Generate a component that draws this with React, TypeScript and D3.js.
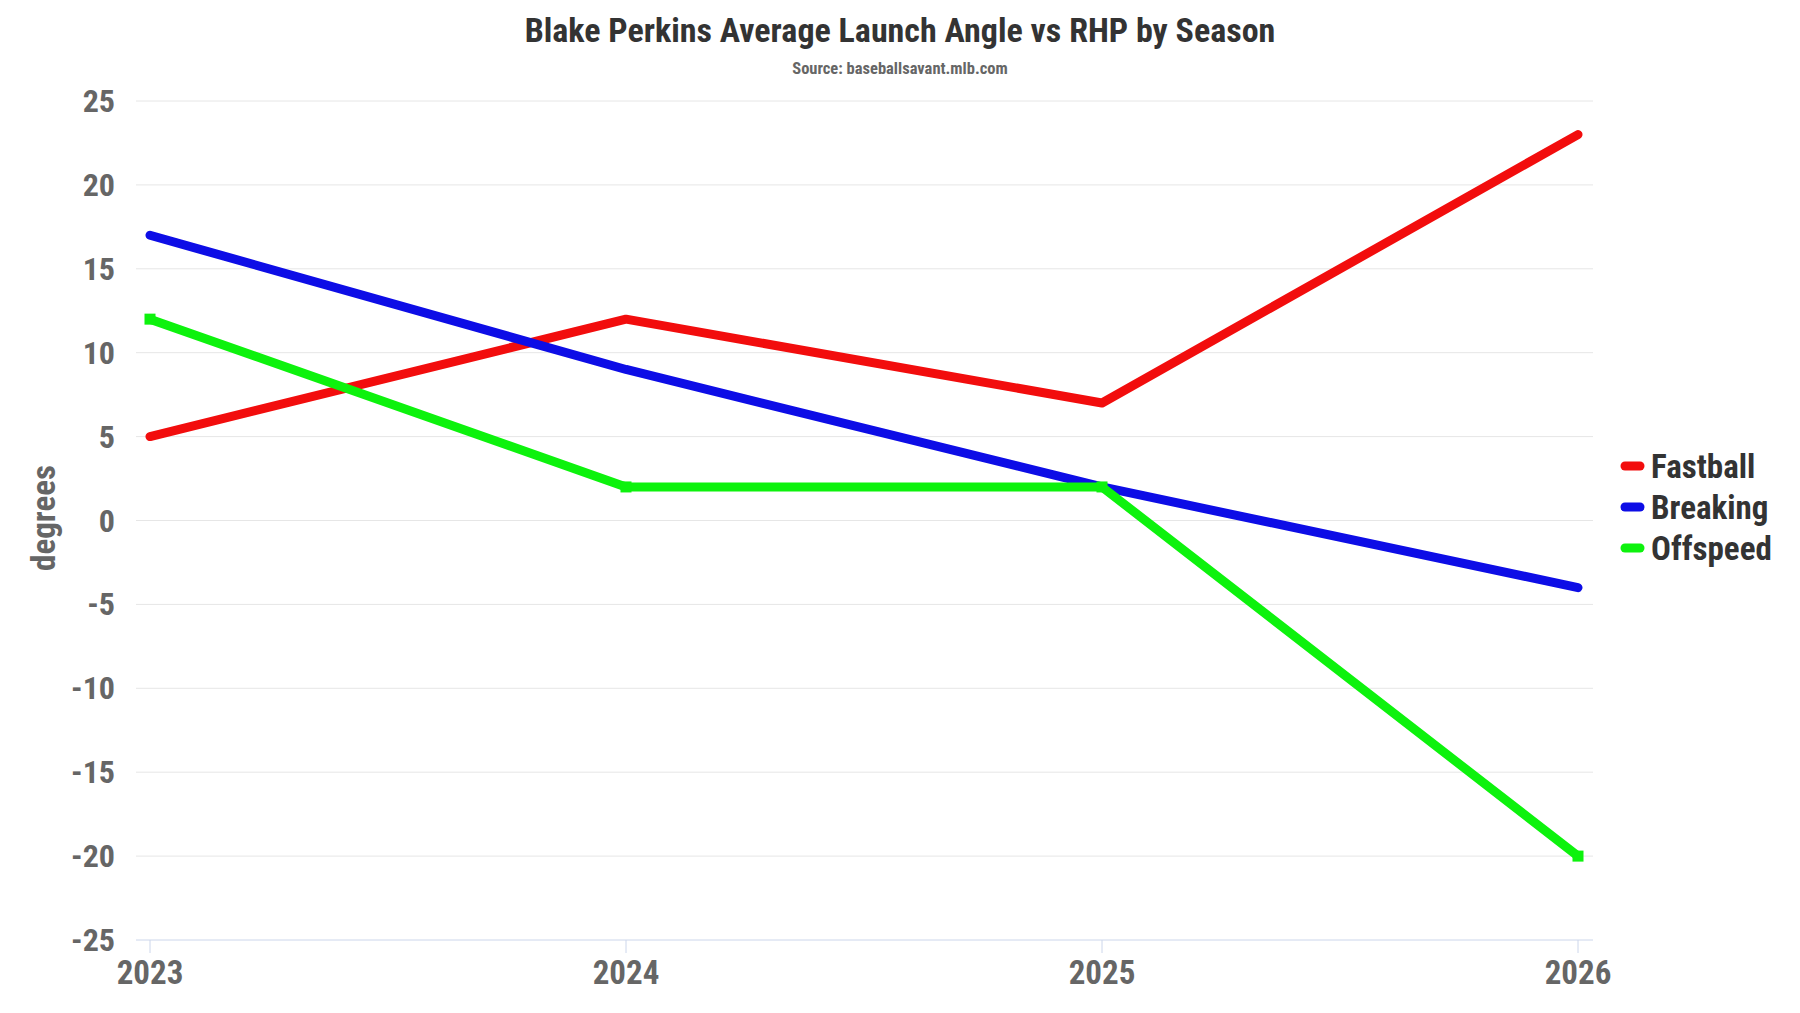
import * as d3 from 'd3';

// Season-level averages
const seasons = ['2023', '2024', '2025', '2026'];
const fastball = [5, 12, 7, 23];
const breaking = [17, 9, 2, -4];
const offspeed = [12, 2, 2, -20];
const yTicks = [-25, -20, -15, -10, -5, 0, 5, 10, 15, 20, 25];

const series = [
  { name: 'Fastball', values: fastball, color: '#f20d0d', marker: 'circle' },
  { name: 'Breaking', values: breaking, color: '#0d0de6', marker: 'circle' },
  { name: 'Offspeed', values: offspeed, color: '#0df20d', marker: 'square' },
];

const FONT = "'Roboto Condensed','Liberation Sans Narrow','DejaVu Sans Condensed',sans-serif";

export default function App() {
  const width = 1800;
  const height = 1013;
  const plot = { left: 136, right: 1593, top: 101, bottom: 940 };

  const x = d3
    .scalePoint<string>()
    .domain(seasons)
    .range([150, 1578]);

  const y = d3.scaleLinear().domain([-25, 25]).range([plot.bottom, plot.top]);

  const line = d3
    .line<number>()
    .x((_, i) => x(seasons[i]) ?? 0)
    .y((d) => y(d));

  return (
    <svg
      width={width}
      height={height}
      style={{ position: 'absolute', left: 0, top: 0, background: '#fff' }}
      fontFamily={FONT}
      fontWeight="bold"
    >
      {/* Title */}
      <text x={900} y={42} textAnchor="middle" fontSize={34} fill="#333">
        Blake Perkins Average Launch Angle vs RHP by Season
      </text>
      <text x={900} y={74} textAnchor="middle" fontSize={16.5} fill="#666">
        Source: baseballsavant.mlb.com
      </text>

      {/* Grid lines */}
      {yTicks.map((t) => (
        <line
          key={t}
          x1={plot.left}
          x2={plot.right}
          y1={y(t)}
          y2={y(t)}
          stroke={t === -25 ? '#ccd6eb' : '#e6e6e6'}
          strokeWidth={1}
        />
      ))}

      {/* Y tick labels */}
      {yTicks.map((t) => (
        <text key={t} x={115} y={y(t) + 11} textAnchor="end" fontSize={32} fill="#666">
          {t}
        </text>
      ))}

      <text
        transform={`translate(${55},${518}) rotate(-90)`}
        textAnchor="middle"
        fontSize={33}
        fill="#666"
      >
        degrees
      </text>

      {/* X axis ticks and labels */}
      {seasons.map((s) => (
        <g key={s} transform={`translate(${x(s)},0)`}>
          <line y1={plot.bottom} y2={plot.bottom + 13} stroke="#ccd6eb" />
          <text y={984} textAnchor="middle" fontSize={33} fill="#666">
            {s}
          </text>
        </g>
      ))}

      {/* Series lines */}
      {series.map((s) => (
        <g key={s.name}>
          <path
            d={line(s.values) ?? ''}
            fill="none"
            stroke={s.color}
            strokeWidth={9}
            strokeLinecap="round"
            strokeLinejoin="round"
          />
          {s.marker === 'square' &&
            s.values.map((v, i) => (
              <rect
                key={i}
                x={(x(seasons[i]) ?? 0) - 5.5}
                y={y(v) - 5.5}
                width={11}
                height={11}
                fill={s.color}
              />
            ))}
        </g>
      ))}

      {/* Legend */}
      {series.map((s, i) => (
        <g key={s.name} transform={`translate(1622,${466 + i * 41})`}>
          <line
            x1={3}
            x2={18}
            y1={0}
            y2={0}
            stroke={s.color}
            strokeWidth={9}
            strokeLinecap="round"
          />
          <text x={29} y={12} fontSize={33} fill="#333">
            {s.name}
          </text>
        </g>
      ))}
    </svg>
  );
}
